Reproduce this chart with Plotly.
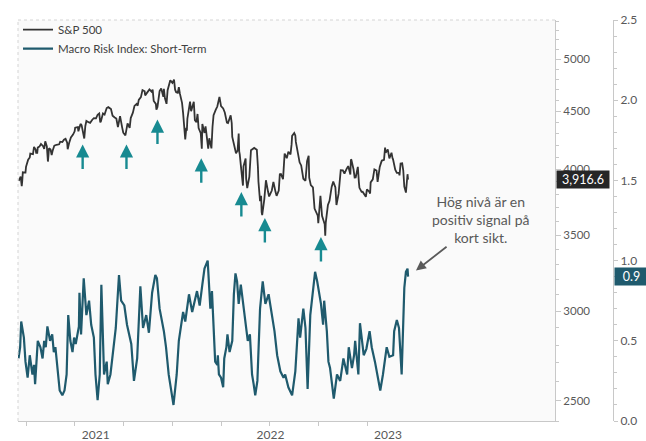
import math
import pandas as pd
import plotly.graph_objects as go

# ---------------------------------------------------------------------------
# Data
# ---------------------------------------------------------------------------
# S&P 500 index level (date, level)
spx_points = [
    ("2021-03-18", 3915), ("2021-03-19", 3913), ("2021-03-22", 3941), ("2021-03-23", 3911),
    ("2021-03-24", 3865), ("2021-03-25", 3909), ("2021-03-26", 3975), ("2021-03-31", 3973),
    ("2021-04-01", 4020), ("2021-04-05", 4078), ("2021-04-08", 4097), ("2021-04-09", 4129),
    ("2021-04-14", 4124), ("2021-04-16", 4185), ("2021-04-19", 4164), ("2021-04-20", 4135),
    ("2021-04-22", 4135), ("2021-04-23", 4180), ("2021-04-26", 4188), ("2021-04-29", 4211),
    ("2021-05-03", 4192), ("2021-05-05", 4168), ("2021-05-07", 4233), ("2021-05-10", 4189),
    ("2021-05-12", 4063), ("2021-05-13", 4113), ("2021-05-14", 4174), ("2021-05-17", 4164),
    ("2021-05-19", 4116), ("2021-05-21", 4156), ("2021-05-24", 4197), ("2021-05-28", 4204),
    ("2021-06-02", 4208), ("2021-06-04", 4230), ("2021-06-08", 4227), ("2021-06-11", 4247),
    ("2021-06-14", 4255), ("2021-06-17", 4222), ("2021-06-18", 4166), ("2021-06-21", 4224),
    ("2021-06-24", 4266), ("2021-06-28", 4291), ("2021-07-01", 4320), ("2021-07-02", 4352),
    ("2021-07-07", 4358), ("2021-07-08", 4320), ("2021-07-12", 4385), ("2021-07-14", 4375),
    ("2021-07-16", 4327), ("2021-07-19", 4258), ("2021-07-21", 4367), ("2021-07-23", 4412),
    ("2021-07-27", 4401), ("2021-07-30", 4395), ("2021-08-03", 4423), ("2021-08-06", 4437),
    ("2021-08-10", 4436), ("2021-08-13", 4468), ("2021-08-16", 4479), ("2021-08-18", 4400),
    ("2021-08-19", 4406), ("2021-08-23", 4479), ("2021-08-26", 4470), ("2021-08-30", 4529),
    ("2021-09-02", 4537), ("2021-09-07", 4520), ("2021-09-10", 4459), ("2021-09-14", 4443),
    ("2021-09-17", 4433), ("2021-09-20", 4358), ("2021-09-22", 4396), ("2021-09-24", 4455),
    ("2021-09-28", 4353), ("2021-09-30", 4308), ("2021-10-04", 4285), ("2021-10-06", 4363),
    ("2021-10-08", 4391), ("2021-10-12", 4351), ("2021-10-14", 4438), ("2021-10-18", 4487),
    ("2021-10-21", 4549), ("2021-10-25", 4567), ("2021-10-27", 4551), ("2021-10-29", 4605),
    ("2021-11-02", 4631), ("2021-11-05", 4697), ("2021-11-09", 4686), ("2021-11-10", 4647),
    ("2021-11-15", 4683), ("2021-11-18", 4704), ("2021-11-22", 4682), ("2021-11-24", 4701),
    ("2021-11-26", 4595), ("2021-11-30", 4567), ("2021-12-01", 4513), ("2021-12-03", 4538),
    ("2021-12-07", 4687), ("2021-12-10", 4712), ("2021-12-14", 4635), ("2021-12-15", 4709),
    ("2021-12-17", 4620), ("2021-12-20", 4568), ("2021-12-22", 4696), ("2021-12-27", 4791),
    ("2021-12-31", 4766),
    ("2022-01-03", 4797), ("2022-01-05", 4701), ("2022-01-07", 4677), ("2022-01-10", 4671),
    ("2022-01-12", 4726), ("2022-01-14", 4663), ("2022-01-18", 4577), ("2022-01-20", 4483),
    ("2022-01-21", 4398), ("2022-01-24", 4250), ("2022-01-26", 4350), ("2022-01-27", 4326),
    ("2022-01-28", 4432), ("2022-02-01", 4546), ("2022-02-02", 4589), ("2022-02-04", 4500),
    ("2022-02-09", 4587), ("2022-02-11", 4419), ("2022-02-14", 4401), ("2022-02-16", 4475),
    ("2022-02-18", 4349), ("2022-02-22", 4304), ("2022-02-23", 4225), ("2022-02-24", 4170),
    ("2022-02-25", 4385), ("2022-03-01", 4306), ("2022-03-03", 4363), ("2022-03-07", 4201),
    ("2022-03-08", 4171), ("2022-03-10", 4260), ("2022-03-14", 4173), ("2022-03-16", 4358),
    ("2022-03-18", 4463), ("2022-03-22", 4512), ("2022-03-25", 4543), ("2022-03-29", 4632),
    ("2022-04-01", 4546), ("2022-04-05", 4525), ("2022-04-08", 4488), ("2022-04-12", 4397),
    ("2022-04-14", 4393), ("2022-04-19", 4462), ("2022-04-21", 4394), ("2022-04-22", 4272),
    ("2022-04-26", 4175), ("2022-04-27", 4183), ("2022-04-29", 4132), ("2022-05-02", 4155),
    ("2022-05-04", 4300), ("2022-05-05", 4147), ("2022-05-06", 4123), ("2022-05-09", 3991),
    ("2022-05-11", 3935), ("2022-05-12", 3870), ("2022-05-13", 4024), ("2022-05-17", 4088),
    ("2022-05-18", 3923), ("2022-05-20", 3850), ("2022-05-24", 3941), ("2022-05-26", 4058),
    ("2022-05-27", 4158), ("2022-06-02", 4177), ("2022-06-07", 4161), ("2022-06-09", 4018),
    ("2022-06-10", 3901), ("2022-06-13", 3750), ("2022-06-15", 3790), ("2022-06-16", 3667),
    ("2022-06-17", 3645), ("2022-06-21", 3765), ("2022-06-24", 3912), ("2022-06-28", 3821),
    ("2022-06-30", 3785), ("2022-07-05", 3831), ("2022-07-08", 3899), ("2022-07-12", 3819),
    ("2022-07-14", 3790), ("2022-07-18", 3831), ("2022-07-20", 3960), ("2022-07-22", 3962),
    ("2022-07-26", 3921), ("2022-07-29", 4130), ("2022-08-02", 4091), ("2022-08-05", 4145),
    ("2022-08-09", 4122), ("2022-08-11", 4207), ("2022-08-12", 4280), ("2022-08-16", 4305),
    ("2022-08-18", 4284), ("2022-08-19", 4228), ("2022-08-22", 4138), ("2022-08-26", 4057),
    ("2022-08-29", 4031), ("2022-09-01", 3967), ("2022-09-02", 3924), ("2022-09-06", 3908),
    ("2022-09-09", 4067), ("2022-09-12", 4110), ("2022-09-13", 3932), ("2022-09-16", 3873),
    ("2022-09-20", 3856), ("2022-09-23", 3693), ("2022-09-27", 3648), ("2022-09-29", 3640),
    ("2022-09-30", 3586), ("2022-10-04", 3791), ("2022-10-07", 3640), ("2022-10-11", 3589),
    ("2022-10-12", 3577), ("2022-10-13", 3495), ("2022-10-14", 3590), ("2022-10-18", 3720),
    ("2022-10-21", 3752), ("2022-10-25", 3859), ("2022-10-28", 3901), ("2022-11-01", 3856),
    ("2022-11-03", 3720), ("2022-11-07", 3807), ("2022-11-10", 3956), ("2022-11-11", 3993),
    ("2022-11-15", 3992), ("2022-11-18", 3965), ("2022-11-22", 4003), ("2022-11-25", 4026),
    ("2022-11-29", 3958), ("2022-11-30", 4080), ("2022-12-01", 4076), ("2022-12-05", 3998),
    ("2022-12-07", 3933), ("2022-12-09", 3934), ("2022-12-13", 4019), ("2022-12-15", 3895),
    ("2022-12-16", 3852), ("2022-12-20", 3821), ("2022-12-22", 3822), ("2022-12-28", 3783),
    ("2022-12-30", 3840),
    ("2023-01-03", 3824), ("2023-01-05", 3808), ("2023-01-06", 3895), ("2023-01-10", 3919),
    ("2023-01-13", 3999), ("2023-01-17", 3990), ("2023-01-19", 3899), ("2023-01-23", 4019),
    ("2023-01-26", 4060), ("2023-01-27", 4071), ("2023-01-31", 4077), ("2023-02-02", 4179),
    ("2023-02-03", 4136), ("2023-02-07", 4164), ("2023-02-10", 4090), ("2023-02-14", 4136),
    ("2023-02-16", 4090), ("2023-02-17", 4079), ("2023-02-21", 3997), ("2023-02-24", 3970),
    ("2023-02-28", 3970), ("2023-03-01", 3951), ("2023-03-03", 4046), ("2023-03-06", 4048),
    ("2023-03-08", 3992), ("2023-03-10", 3861), ("2023-03-13", 3815), ("2023-03-15", 3892),
    ("2023-03-16", 3960), ("2023-03-17", 3916.6),
]

# Macro Risk Index: Short-Term (date, value)
mri_points = [
    ("2021-03-18", 0.39), ("2021-03-21", 0.46), ("2021-03-23", 0.62), ("2021-03-26", 0.56),
    ("2021-03-28", 0.52), ("2021-03-31", 0.37), ("2021-04-04", 0.27), ("2021-04-08", 0.41),
    ("2021-04-13", 0.29), ("2021-04-16", 0.35), ("2021-04-18", 0.23), ("2021-04-21", 0.39),
    ("2021-04-23", 0.50), ("2021-04-28", 0.46), ("2021-05-02", 0.39), ("2021-05-05", 0.50),
    ("2021-05-08", 0.46), ("2021-05-11", 0.59), ("2021-05-16", 0.50), ("2021-05-20", 0.54),
    ("2021-05-23", 0.43), ("2021-05-26", 0.46), ("2021-05-31", 0.29), ("2021-06-03", 0.19),
    ("2021-06-08", 0.16), ("2021-06-12", 0.19), ("2021-06-16", 0.29), ("2021-06-19", 0.66),
    ("2021-06-23", 0.50), ("2021-06-27", 0.43), ("2021-06-30", 0.52), ("2021-07-03", 0.48),
    ("2021-07-09", 0.59), ("2021-07-10", 0.80), ("2021-07-13", 0.54), ("2021-07-18", 0.89),
    ("2021-07-23", 0.66), ("2021-07-28", 0.75), ("2021-08-01", 0.60), ("2021-08-06", 0.52),
    ("2021-08-09", 0.29), ("2021-08-13", 0.13), ("2021-08-17", 0.29), ("2021-08-20", 0.85),
    ("2021-08-25", 0.29), ("2021-08-30", 0.37), ("2021-09-01", 0.23), ("2021-09-06", 0.29),
    ("2021-09-16", 0.58), ("2021-09-19", 0.75), ("2021-09-22", 0.91), ("2021-09-26", 0.75),
    ("2021-10-02", 0.72), ("2021-10-07", 0.60), ("2021-10-15", 0.48), ("2021-10-20", 0.25),
    ("2021-10-26", 0.39), ("2021-11-01", 0.84), ("2021-11-06", 0.58), ("2021-11-12", 0.66),
    ("2021-11-17", 0.55), ("2021-11-23", 0.80), ("2021-11-29", 0.91), ("2021-12-02", 0.89),
    ("2021-12-07", 0.70), ("2021-12-15", 0.56), ("2021-12-19", 0.46), ("2021-12-24", 0.29),
    ("2022-01-02", 0.10), ("2022-01-08", 0.29), ("2022-01-12", 0.50), ("2022-01-20", 0.68),
    ("2022-01-24", 0.62), ("2022-01-31", 0.79), ("2022-02-06", 0.68), ("2022-02-15", 0.81),
    ("2022-02-20", 0.72), ("2022-02-25", 0.85), ("2022-03-01", 0.95), ("2022-03-07", 1.00),
    ("2022-03-09", 0.87), ("2022-03-12", 0.70), ("2022-03-15", 0.81), ("2022-03-18", 0.62),
    ("2022-03-21", 0.37), ("2022-03-25", 0.35), ("2022-03-26", 0.41), ("2022-03-28", 0.29),
    ("2022-04-01", 0.27), ("2022-04-05", 0.21), ("2022-04-07", 0.39), ("2022-04-11", 0.46),
    ("2022-04-13", 0.54), ("2022-04-17", 0.43), ("2022-04-22", 0.50), ("2022-04-25", 0.79),
    ("2022-04-28", 0.92), ("2022-05-01", 0.87), ("2022-05-04", 0.73), ("2022-05-08", 0.85),
    ("2022-05-12", 0.75), ("2022-05-16", 0.64), ("2022-05-21", 0.50), ("2022-05-25", 0.54),
    ("2022-05-27", 0.39), ("2022-05-29", 0.29), ("2022-06-01", 0.23), ("2022-06-04", 0.16),
    ("2022-06-08", 0.25), ("2022-06-13", 0.70), ("2022-06-18", 0.87), ("2022-06-23", 0.73),
    ("2022-06-29", 0.79), ("2022-07-05", 0.66), ("2022-07-10", 0.56), ("2022-07-15", 0.41),
    ("2022-07-21", 0.31), ("2022-07-27", 0.27), ("2022-07-30", 0.29), ("2022-08-05", 0.21),
    ("2022-08-12", 0.16), ("2022-08-18", 0.31), ("2022-08-24", 0.64), ("2022-08-27", 0.52),
    ("2022-09-02", 0.70), ("2022-09-06", 0.58), ("2022-09-10", 0.20), ("2022-09-15", 0.66),
    ("2022-09-21", 0.85), ("2022-09-24", 0.93), ("2022-09-28", 0.87), ("2022-09-30", 0.83),
    ("2022-10-05", 0.73), ("2022-10-09", 0.60), ("2022-10-11", 0.75), ("2022-10-16", 0.56),
    ("2022-10-19", 0.37), ("2022-10-22", 0.33), ("2022-10-26", 0.21), ("2022-10-29", 0.14),
    ("2022-11-04", 0.29), ("2022-11-10", 0.25), ("2022-11-16", 0.39), ("2022-11-23", 0.29),
    ("2022-11-26", 0.46), ("2022-12-02", 0.33), ("2022-12-06", 0.41), ("2022-12-08", 0.50),
    ("2022-12-14", 0.29), ("2022-12-17", 0.61), ("2022-12-24", 0.41), ("2022-12-29", 0.45),
    ("2023-01-04", 0.56), ("2023-01-08", 0.46), ("2023-01-14", 0.37), ("2023-01-19", 0.29),
    ("2023-01-24", 0.19), ("2023-01-29", 0.29), ("2023-02-05", 0.46), ("2023-02-10", 0.40),
    ("2023-02-17", 0.41), ("2023-02-19", 0.56), ("2023-02-24", 0.63), ("2023-02-28", 0.58),
    ("2023-03-05", 0.29), ("2023-03-10", 0.83), ("2023-03-13", 0.93), ("2023-03-16", 0.95),
    ("2023-03-17", 0.9),
]

spx_dates = [d for d, _ in spx_points]
spx_level = [v for _, v in spx_points]
mri_dates = [d for d, _ in mri_points]
mri_value = [v for _, v in mri_points]

# Buy-signal dates and the index level each arrow points at
signal_dates = ["2021-07-16", "2021-10-06", "2021-12-03", "2022-02-23",
                "2022-05-09", "2022-06-22", "2022-10-05"]
signal_levels = [4207, 4207, 4424, 4090, 3819, 3623, 3486]

spx_ticks = [2500, 3000, 3500, 4000, 4500, 5000]
mri_ticks = [0.0, 0.5, 1.0, 1.5, 2.0, 2.5]
year_labels = ["2021", "2022", "2023"]

note_text = "Hög nivå är en<br>positiv signal på<br>kort sikt."

# ---------------------------------------------------------------------------
# Styling
# ---------------------------------------------------------------------------
FONT = "Lato, 'Open Sans', sans-serif"
SPX_COLOR = "#333333"
MRI_COLOR = "#1f5a6d"
SIGNAL_COLOR = "#178a91"
TEXT_COLOR = "#595959"
AXIS_COLOR = "#c8c8c8"

W, H = 646, 441
M_L, M_R, M_T, M_B = 18, 0, 20, 20
plot_w = W - M_L - M_R
x_dom_end = (555 - M_L) / plot_w          # right edge of the price pane
y2_pos = (613 - M_L) / plot_w             # free-standing risk-index axis

x_start = pd.Timestamp("2021-03-17")
x_end = pd.Timestamp("2023-12-17")

# year labels centred on the part of each year that carries data
data_start = pd.Timestamp(spx_dates[0])
data_end = pd.Timestamp(spx_dates[-1])
year_mid = []
for lab in year_labels:
    y0 = max(pd.Timestamp(f"{lab}-01-01"), data_start)
    y1 = min(pd.Timestamp(f"{int(lab) + 1}-01-01"), data_end)
    year_mid.append(y0 + (y1 - y0) / 2)

quarter_ticks = list(pd.date_range(data_start, data_end, freq="QS"))

spx_minor = [v for v in range(2400, 5500, 100) if v not in spx_ticks]

fig = go.Figure()

fig.add_trace(go.Scatter(
    x=spx_dates, y=spx_level, mode="lines", name="S&P 500",
    line=dict(color=SPX_COLOR, width=1.8), yaxis="y",
))
fig.add_trace(go.Scatter(
    x=mri_dates, y=mri_value, mode="lines", name="Macro Risk Index: Short-Term",
    line=dict(color=MRI_COLOR, width=2.2), yaxis="y2",
))

annotations = []

# signal arrows under the index dips
for d, lvl in zip(signal_dates, signal_levels):
    annotations.append(dict(
        x=d, y=math.log10(lvl), xref="x", yref="y", text="",
        showarrow=True, arrowhead=2, arrowsize=1.1, arrowwidth=2.4,
        arrowcolor=SIGNAL_COLOR, ax=0, ay=26,
    ))

# callout pointing at the latest reading
annotations.append(dict(
    x=mri_dates[-1], y=mri_value[-1], xref="x", yref="y2", text="",
    showarrow=True, arrowhead=2, arrowsize=1.1, arrowwidth=1.8,
    arrowcolor="#5a5a5a", ax=40, ay=-31, standoff=10,
))
annotations.append(dict(
    x=(481 - M_L) / plot_w, y=1 - (219 - M_T) / (H - M_T - M_B),
    xref="paper", yref="paper", text=note_text, showarrow=False,
    font=dict(family=FONT, size=14, color=TEXT_COLOR), align="center",
    xanchor="center", yanchor="middle",
))

# last-value tags on the two axes
annotations.append(dict(
    x=(556 - M_L) / plot_w, y=math.log10(spx_level[-1]), xref="paper", yref="y",
    text=f"{spx_level[-1]:,.1f}", showarrow=False, xanchor="left", yanchor="middle",
    bgcolor="#262626", borderpad=1, width=50, height=15,
    font=dict(family=FONT, size=12.5, color="#ffffff"),
))
annotations.append(dict(
    x=(614 - M_L) / plot_w, y=mri_value[-1], xref="paper", yref="y2",
    text=f"{mri_value[-1]:.1f}", showarrow=False, xanchor="left", yanchor="middle",
    bgcolor=MRI_COLOR, borderpad=1, width=31, height=15,
    font=dict(family=FONT, size=12.5, color="#ffffff"),
))

shapes = [
    dict(type="line", xref="paper", yref="paper", x0=0, x1=0, y0=0, y1=1,
         line=dict(color="#d4d4d4", width=1, dash="dot")),
    dict(type="line", xref="paper", yref="paper", x0=0, x1=x_dom_end, y0=1, y1=1,
         line=dict(color="#d4d4d4", width=1, dash="dot")),
]

fig.update_layout(
    width=W, height=H,
    margin=dict(l=M_L, r=M_R, t=M_T, b=M_B),
    paper_bgcolor="#ffffff",
    plot_bgcolor="#fafafa",
    font=dict(family=FONT, size=11, color=TEXT_COLOR),
    showlegend=True,
    legend=dict(
        x=0.0, y=1.012, xanchor="left", yanchor="top",
        bgcolor="rgba(0,0,0,0)", font=dict(family=FONT, size=11.5, color="#404040"),
        itemwidth=30, tracegroupgap=0,
    ),
    xaxis=dict(
        type="date", domain=[0, x_dom_end], range=[x_start, x_end],
        showgrid=False, zeroline=False, showline=True, linecolor=AXIS_COLOR,
        tickvals=year_mid, ticktext=year_labels, ticks="",
        tickfont=dict(family=FONT, size=12, color=TEXT_COLOR),
        ticklabelstandoff=3,
        minor=dict(tickmode="array", tickvals=quarter_ticks, ticks="outside",
                   ticklen=4, tickcolor=AXIS_COLOR, showgrid=False),
    ),
    yaxis=dict(
        type="log", side="right", anchor="x",
        range=[math.log10(2400), math.log10(5415)],
        showgrid=False, zeroline=False, showline=True, linecolor=AXIS_COLOR,
        tickvals=spx_ticks, ticktext=[str(v) for v in spx_ticks],
        ticks="outside", ticklen=5, tickcolor=AXIS_COLOR,
        tickfont=dict(family=FONT, size=11.5, color=TEXT_COLOR),
        minor=dict(tickmode="array", tickvals=spx_minor, ticks="outside",
                   ticklen=3, tickcolor=AXIS_COLOR, showgrid=False),
    ),
    yaxis2=dict(
        overlaying="y", side="right", anchor="free", position=y2_pos,
        range=[0, 2.5], showgrid=False, zeroline=False,
        showline=True, linecolor=AXIS_COLOR,
        tickvals=mri_ticks, tickformat=".1f",
        ticks="outside", ticklen=4, tickcolor=AXIS_COLOR,
        tickfont=dict(family=FONT, size=12, color=TEXT_COLOR),
        minor=dict(dtick=0.1, ticks="outside", ticklen=3,
                   tickcolor=AXIS_COLOR, showgrid=False),
    ),
    annotations=annotations,
    shapes=shapes,
)

fig.write_html("out.html")
